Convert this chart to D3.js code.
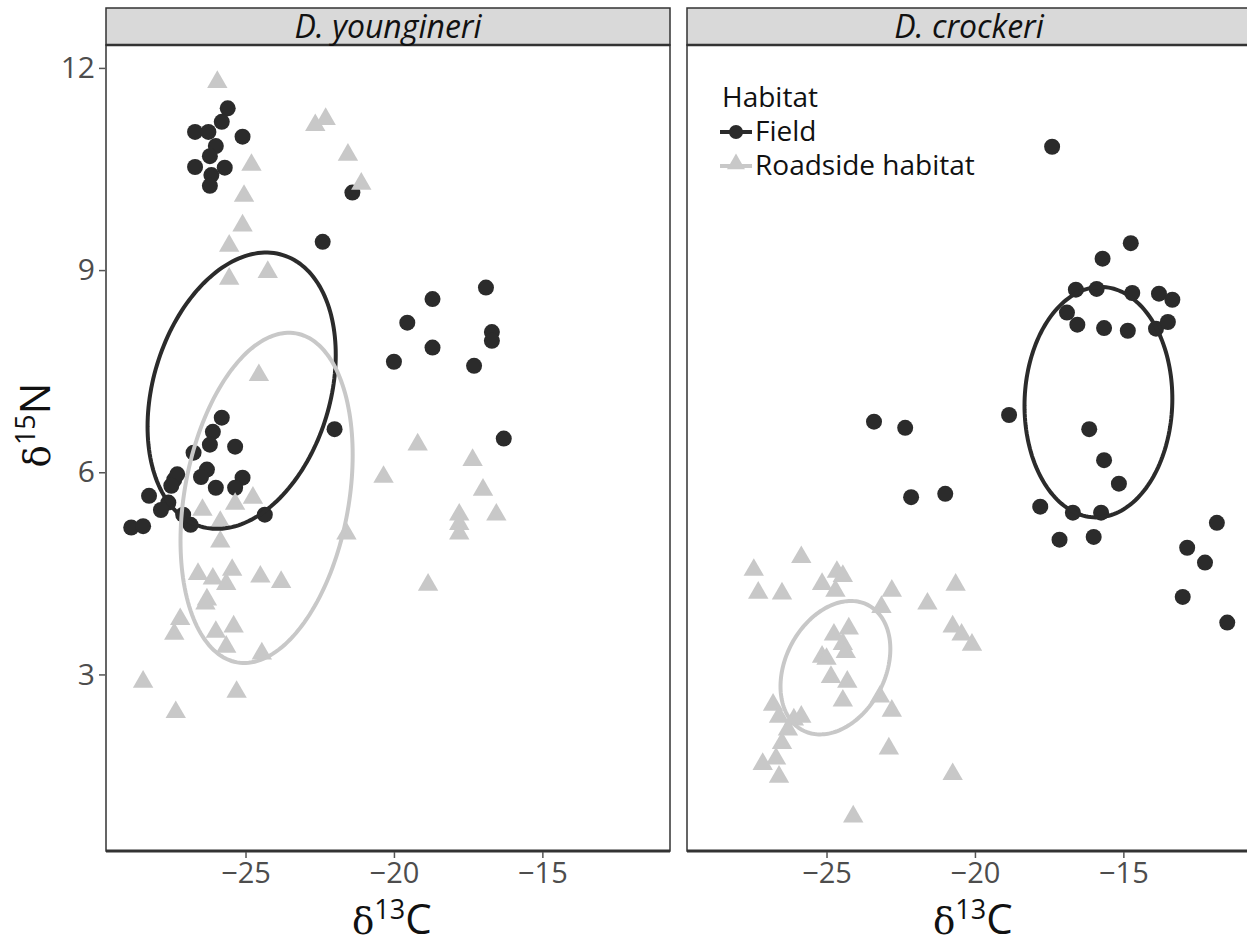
<!DOCTYPE html>
<html lang="en">
<head>
<meta charset="UTF-8"/>
<title>Stable isotopes by habitat</title>
<script src="https://d3js.org/d3.v7.min.js"></script>
<style>
  body { margin: 0; background: white; }
  svg { display: block; overflow: hidden; }
  .tick text { font-family: "Liberation Sans Narrow", "Open Sans", sans-serif; fill: #4d4d4d; }
</style>
</head>
<body>
<script>
// species facets and habitat groups
var species = ["D. youngineri", "D. crockeri"];
var habitats = ["Field", "Roadside habitat"];
var xTicks = [-25, -20, -15];
var yTicks = [3, 6, 9, 12];

// D. youngineri, Field
var youngFieldX = [-25.6, -25.8, -26.7, -26.25, -25.1, -26.0, -26.2, -26.7, -25.7, -26.15, -26.2, -21.4, -22.4,
  -18.7, -16.9, -19.55, -16.7, -16.7, -18.7, -20.0, -17.3, -22.0, -16.3, -25.8, -26.1, -26.2, -25.35, -26.75,
  -26.3, -26.5, -25.1, -27.4, -27.3, -27.5, -26.0, -25.35, -28.25, -27.6, -27.85, -27.1, -26.85, -24.35, -28.85, -28.45];
var youngFieldY = [11.4, 11.2, 11.05, 11.05, 10.98, 10.84, 10.69, 10.53, 10.52, 10.41, 10.25, 10.15, 9.42,
  8.57, 8.74, 8.22, 8.08, 7.95, 7.85, 7.64, 7.58, 6.64, 6.5, 6.81, 6.6, 6.41, 6.38, 6.29,
  6.04, 5.93, 5.92, 5.89, 5.97, 5.8, 5.77, 5.77, 5.65, 5.55, 5.44, 5.37, 5.22, 5.37, 5.18, 5.2];

// D. youngineri, Roadside habitat
var youngRoadX = [-25.95, -22.65, -22.3, -21.55, -21.1, -24.8, -25.05, -25.1, -25.55, -24.25, -25.55, -24.55,
  -20.35, -26.45, -25.35, -24.75, -25.85, -21.6, -25.85, -26.6, -26.1, -25.45, -25.65, -24.5, -23.8, -26.3,
  -26.35, -27.2, -27.4, -26.0, -25.4, -25.65, -24.45, -28.45, -25.3, -27.35, -19.2, -17.35, -17.0, -17.8,
  -17.8, -17.8, -16.55, -18.85];
var youngRoadY = [11.82, 11.18, 11.27, 10.74, 10.31, 10.59, 10.13, 9.69, 9.39, 9.0, 8.9, 7.47,
  5.96, 5.47, 5.56, 5.65, 5.29, 5.12, 5.0, 4.52, 4.45, 4.58, 4.37, 4.48, 4.4, 4.14,
  4.08, 3.85, 3.63, 3.66, 3.74, 3.44, 3.34, 2.92, 2.77, 2.47, 6.44, 6.21, 5.77, 5.40,
  5.26, 5.12, 5.40, 4.36];

// D. crockeri, Field
var crockFieldX = [-17.4, -14.75, -15.7, -16.6, -15.9, -14.7, -13.8, -13.35, -16.9, -16.55, -15.65, -14.85,
  -13.9, -13.5, -18.85, -16.15, -15.65, -15.15, -17.8, -16.7, -15.75, -17.15, -16.0, -11.85, -12.85, -12.25,
  -13.0, -11.5, -23.4, -22.35, -22.15, -21.0];
var crockFieldY = [10.83, 9.4, 9.17, 8.71, 8.72, 8.66, 8.65, 8.56, 8.37, 8.19, 8.14, 8.1,
  8.13, 8.23, 6.85, 6.64, 6.18, 5.83, 5.49, 5.4, 5.4, 5.0, 5.04, 5.25, 4.88, 4.66,
  4.15, 3.77, 6.75, 6.66, 5.63, 5.68];

// D. crockeri, Roadside habitat
var crockRoadX = [-25.85, -27.45, -27.3, -26.5, -24.65, -24.45, -25.15, -24.7, -22.8, -23.15, -21.6, -20.65,
  -20.75, -20.45, -20.1, -24.25, -24.75, -24.45, -24.35, -25.15, -25.0, -24.85, -24.3, -24.45, -25.85, -26.1,
  -23.2, -22.8, -26.8, -26.6, -26.3, -26.5, -26.7, -27.15, -26.6, -22.9, -20.75, -24.1];
var crockRoadY = [4.77, 4.58, 4.24, 4.23, 4.55, 4.49, 4.37, 4.27, 4.27, 4.03, 4.08, 4.36,
  3.74, 3.62, 3.47, 3.71, 3.62, 3.48, 3.36, 3.29, 3.26, 2.99, 2.92, 2.64, 2.4, 2.36,
  2.7, 2.49, 2.58, 2.4, 2.21, 2.01, 1.78, 1.7, 1.51, 1.93, 1.55, 0.92];

// ellipse parameters [centre x, centre y, sd x, sd y, correlation] per facet: field, roadside
var youngEllipses = [[-25.13, 7.21, 3.17, 2.05, 0.26], [-24.29, 5.62, 2.90, 2.45, 0.26]];
var crockEllipses = [[-15.84, 7.04, 2.49, 1.71, 0.03], [-24.70, 3.10, 1.85, 0.99, 0.28]];

var W = 1247, H = 946;
var colours = ["#2b2b2b", "#c8c8c8"];
var plotTop = 45, plotBottom = 851, panelW = 564;
var panelLeft = [106, 687];

var facets = [
  { name: species[0], groups: [[youngFieldX, youngFieldY], [youngRoadX, youngRoadY]], ell: youngEllipses },
  { name: species[1], groups: [[crockFieldX, crockFieldY], [crockRoadX, crockRoadY]], ell: crockEllipses }
];

var svg = d3.select("body").append("svg").attr("width", W).attr("height", H);

var yScale = d3.scaleLinear().domain([0.38, 12.34]).range([plotBottom, plotTop]);

var tri = d3.symbol().type(d3.symbolTriangle).size(180);

facets.forEach(function (f, fi) {
  var x0 = panelLeft[fi];
  var xScale = d3.scaleLinear().domain([-29.7, -10.7]).range([x0, x0 + panelW]);
  var g = svg.append("g");

  g.append("rect").attr("x", x0).attr("y", plotTop).attr("width", panelW).attr("height", plotBottom - plotTop)
    .attr("fill", "white");

  // circles first, then triangles, then ellipses
  var field = f.groups[0];
  g.selectAll("circle.pt").data(d3.range(field[0].length)).enter().append("circle")
    .attr("cx", function (i) { return xScale(field[0][i]); })
    .attr("cy", function (i) { return yScale(field[1][i]); })
    .attr("r", 8)
    .attr("fill", colours[0]);

  var road = f.groups[1];
  g.selectAll("path.tri").data(d3.range(road[0].length)).enter().append("path")
    .attr("class", "tri")
    .attr("d", tri)
    .attr("transform", function (i) { return "translate(" + xScale(road[0][i]) + "," + (yScale(road[1][i]) + 2) + ")"; })
    .attr("fill", colours[1]);

  var line = d3.line().x(function (p) { return xScale(p[0]); }).y(function (p) { return yScale(p[1]); });
  f.ell.forEach(function (e, k) {
    var phi = Math.acos(e[4]);
    var pts = d3.range(0, 2 * Math.PI + 0.01, Math.PI / 90).map(function (t) {
      return [e[0] + e[2] * Math.cos(t), e[1] + e[3] * Math.cos(t - phi)];
    });
    g.append("path").attr("d", line(pts)).attr("fill", "none")
      .attr("stroke", colours[k]).attr("stroke-width", 4);
  });

  // panel border
  g.append("rect").attr("x", x0).attr("y", plotTop).attr("width", panelW).attr("height", plotBottom - plotTop)
    .attr("fill", "none").attr("stroke", "#333").attr("stroke-width", 1.5);
  g.append("line").attr("x1", x0).attr("x2", x0 + panelW).attr("y1", plotBottom).attr("y2", plotBottom)
    .attr("stroke", "#333").attr("stroke-width", 3);

  // strip
  g.append("rect").attr("x", x0).attr("y", 8).attr("width", panelW).attr("height", plotTop - 8)
    .attr("fill", "#d9d9d9").attr("stroke", "#333").attr("stroke-width", 1.5);
  g.append("line").attr("x1", x0).attr("x2", x0 + panelW).attr("y1", plotTop).attr("y2", plotTop)
    .attr("stroke", "#333").attr("stroke-width", 2.5);
  g.append("text").attr("x", x0 + panelW / 2).attr("y", 38).attr("text-anchor", "middle")
    .attr("font-family", "Open Sans, sans-serif").attr("font-style", "italic").attr("font-size", 32)
    .attr("fill", "#111").text(f.name);

  // x axis
  var xAxis = g.append("g").attr("transform", "translate(0," + (plotBottom + 1) + ")")
    .call(d3.axisBottom(xScale).tickValues(xTicks).tickSize(6).tickPadding(4)
      .tickFormat(function (d) { return "\u2212" + Math.abs(d); }));
  xAxis.select(".domain").remove();
  xAxis.selectAll(".tick line").attr("stroke", "#555").attr("stroke-width", 1.5);
  xAxis.selectAll(".tick text").attr("font-size", 29);

  var xt = g.append("text").attr("x", x0 + panelW / 2 - 36).attr("y", 934)
    .attr("font-family", "Liberation Sans Narrow, Open Sans, sans-serif").attr("font-size", 42).attr("fill", "#111");
  xt.append("tspan").attr("font-family", "DejaVu Serif, serif").attr("font-size", 37).text("\u03b4");
  xt.append("tspan").attr("font-size", 27).attr("dy", -15).text("13");
  xt.append("tspan").attr("dy", 15).text("C");
});

// y axis on left panel only
var yAxis = svg.append("g").attr("transform", "translate(" + (panelLeft[0] - 1) + ",0)")
  .call(d3.axisLeft(yScale).tickValues(yTicks).tickSize(6).tickPadding(4));
yAxis.select(".domain").remove();
yAxis.selectAll(".tick line").attr("stroke", "#555").attr("stroke-width", 1.5);
yAxis.selectAll(".tick text").attr("font-size", 30);

var yt = svg.append("text").attr("transform", "translate(50,425) rotate(-90)").attr("text-anchor", "middle")
  .attr("font-family", "Liberation Sans Narrow, Open Sans, sans-serif").attr("font-size", 42).attr("fill", "#111");
yt.append("tspan").attr("font-family", "DejaVu Serif, serif").attr("font-size", 37).text("\u03b4");
yt.append("tspan").attr("font-size", 27).attr("dy", -15).text("15");
yt.append("tspan").attr("dy", 15).text("N");

// legend inside right panel
var lg = svg.append("g").attr("font-family", "Open Sans, sans-serif").attr("font-size", 28).attr("fill", "#111");
lg.append("text").attr("x", 722).attr("y", 107).text("Habitat");
habitats.forEach(function (h, k) {
  var cy = 132 + k * 34;
  lg.append("line").attr("x1", 720).attr("x2", 752).attr("y1", cy).attr("y2", cy)
    .attr("stroke", colours[k]).attr("stroke-width", 4);
  if (k === 0) {
    lg.append("circle").attr("cx", 736).attr("cy", cy).attr("r", 7).attr("fill", colours[k]);
  } else {
    lg.append("path").attr("d", d3.symbol().type(d3.symbolTriangle).size(140))
      .attr("transform", "translate(736," + (cy - 2) + ")").attr("fill", colours[k]);
  }
  lg.append("text").attr("x", 755).attr("y", cy + 9).text(h);
});
</script>
</body>
</html>
